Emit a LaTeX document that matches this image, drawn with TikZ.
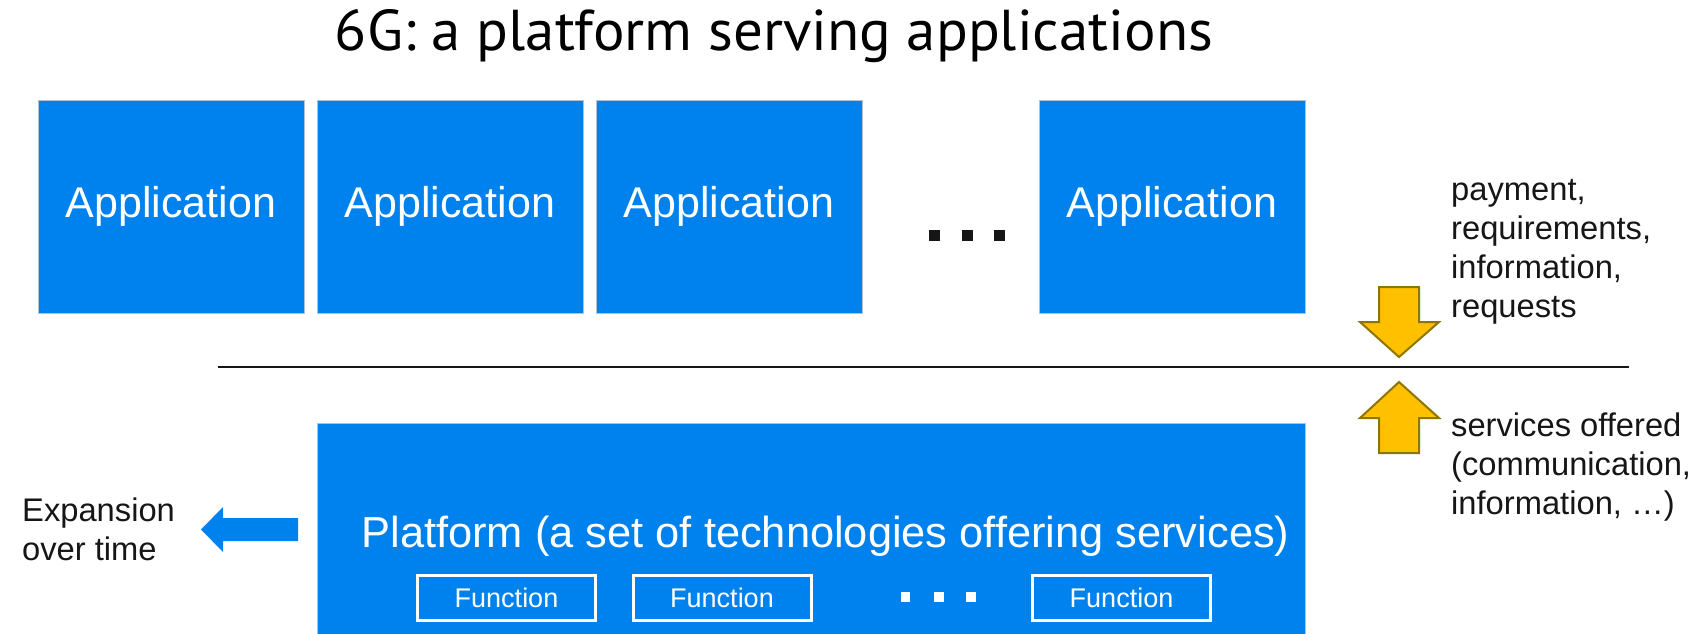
\documentclass[tikz,border=0pt]{standalone}
\usepackage{fontspec}
\setmainfont{Liberation Sans}
\newfontfamily\titlefont{PT Sans}

\definecolor{appblue}{RGB}{0,130,238}
\definecolor{boxedge}{RGB}{175,195,215}
\definecolor{gold}{RGB}{255,192,0}
\definecolor{goldedge}{RGB}{140,118,0}
\definecolor{ink}{RGB}{22,22,22}

\tikzset{
  appbox/.style={draw=boxedge, line width=0.7pt, fill=appblue, text=white,
    inner sep=0pt, minimum width=266pt, minimum height=213pt,
    font=\fontsize{43}{50}\selectfont},
  platbox/.style={draw=boxedge, line width=0.7pt, fill=appblue,
    inner sep=0pt, minimum width=988pt, minimum height=211pt},
  funcbox/.style={draw=white, line width=3pt, text=white, inner sep=0pt,
    minimum width=178pt, minimum height=45pt,
    font=\fontsize{27}{32}\selectfont},
  sidetext/.style={text=ink, inner sep=0pt, align=left,
    font=\fontsize{32.7}{39}\selectfont},
  blockarrow/.style={fill=gold, draw=goldedge, line width=2pt, line join=miter},
  bluearrow/.style={fill=appblue, draw=none},
  darkdot/.style={fill=ink, draw=none, minimum size=11pt, inner sep=0pt},
  whitedot/.style={fill=white, draw=none, minimum size=9.5pt, inner sep=0pt},
}

\begin{document}
\begin{tikzpicture}[x=1pt,y=-1pt]
  \useasboundingbox (0,0) rectangle (1703,633);

  % title
  \node[anchor=base, inner sep=0pt] (title) at (774,50)
    {\resizebox{878pt}{41pt}{\titlefont 6G: a platform serving applications}};

  % application row
  \node[appbox] (app1) at (171,206.5) {Application};
  \node[appbox] (app2) at (450,206.5) {Application};
  \node[appbox] (app3) at (729,206.5) {Application};
  \node[appbox] (app4) at (1172,206.5) {Application};
  \node[darkdot] (adot1) at (934.5,235.5) {};
  \node[darkdot] (adot2) at (967.5,235.5) {};
  \node[darkdot] (adot3) at (999.5,235.5) {};

  % dividing line
  \coordinate (lineL) at (218,367);
  \coordinate (lineR) at (1629,367);
  \draw[line width=2pt, ink] (lineL) -- (lineR);

  % platform
  \node[platbox] (plat) at (811,528.5) {};
  \node[anchor=base, inner sep=0pt, text=white,
        font=\fontsize{43.4}{50}\selectfont] (platlabel) at (825.5,547)
    {Platform (a set of technologies offering services)};
  \node[funcbox] (f1) at (506.5,598) {Function};
  \node[funcbox] (f2) at (722,598) {Function};
  \node[funcbox] (f3) at (1121.5,598) {Function};
  \node[whitedot] (fdot1) at (905.5,597) {};
  \node[whitedot] (fdot2) at (939,597) {};
  \node[whitedot] (fdot3) at (971,597) {};

  % expansion arrow and its text (base = last line)
  \path[bluearrow] (201,529.5) -- (223,507) -- (223,518) -- (298,518)
    -- (298,541) -- (223,541) -- (223,552) -- cycle;
  \node[sidetext, anchor=base west] (expand) at (22,560)
    {Expansion\\over time};

  % exchange between applications and platform
  \path[blockarrow] (1379,287) -- (1419,287) -- (1419,322) -- (1439,322)
    -- (1399,357) -- (1360,322) -- (1379,322) -- cycle;
  \path[blockarrow] (1399,382) -- (1439,418) -- (1419,418) -- (1419,453)
    -- (1379,453) -- (1379,418) -- (1360,418) -- cycle;
  \node[sidetext, anchor=base west] (demand) at (1451,317)
    {payment,\\requirements,\\information,\\requests};
  \node[sidetext, anchor=base west] (offer) at (1451,514)
    {services offered\\(communication,\\information, \ldots)};
\end{tikzpicture}
\end{document}
